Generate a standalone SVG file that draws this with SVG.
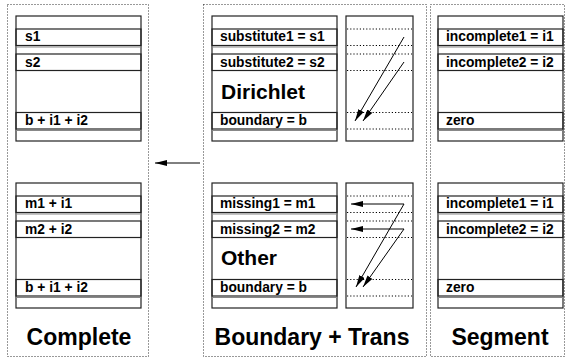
<svg xmlns="http://www.w3.org/2000/svg" width="566" height="360" viewBox="0 0 566 360">
<defs>
<style>
.frame{fill:none;stroke:#333;stroke-width:1;stroke-dasharray:1 2}
.tbl{fill:#fff;stroke:#222;stroke-width:1.2}
.grid{stroke:#888;stroke-width:1}
.row{fill:none;stroke:#222;stroke-width:1.2}
.dot{stroke:#000;stroke-width:1;stroke-dasharray:1.2 2}
.lbl{font-family:"Liberation Sans",Arial,sans-serif;font-weight:bold;font-size:13.8px;fill:#000}
.mid{font-family:"Liberation Sans",Arial,sans-serif;font-weight:bold;font-size:21px;fill:#000}
.ttl{font-family:"Liberation Sans",Arial,sans-serif;font-weight:bold;font-size:23px;fill:#000;text-anchor:middle}
.arr{stroke:#000;stroke-width:1;fill:none;marker-end:url(#ah)}
</style>
<marker id="ah" viewBox="0 0 12 6" refX="12" refY="3" markerWidth="12" markerHeight="6" markerUnits="userSpaceOnUse" orient="auto">
<path d="M0,0 L12,3 L0,6 Z" fill="#000"/>
</marker>
<g id="table">
<rect class="tbl" x="0" y="0" width="125" height="125"/>
<line class="grid" x1="0" y1="31" x2="125" y2="31"/>
<line class="grid" x1="0" y1="114.5" x2="125" y2="114.5"/>
<rect class="row" x="0" y="13" width="125" height="16.5"/>
<rect class="row" x="0" y="38" width="125" height="16.5"/>
<rect class="row" x="0" y="96.5" width="125" height="16.5"/>
</g>
<g id="trans">
<rect class="tbl" x="0" y="0" width="67" height="125"/>
<line class="dot" x1="1" y1="13" x2="66" y2="13"/>
<line class="dot" x1="1" y1="29.5" x2="66" y2="29.5"/>
<line class="dot" x1="1" y1="38" x2="66" y2="38"/>
<line class="dot" x1="1" y1="54.5" x2="66" y2="54.5"/>
<line class="dot" x1="1" y1="96.5" x2="66" y2="96.5"/>
<line class="dot" x1="1" y1="113" x2="66" y2="113"/>
</g>
</defs>

<g id="complete">
<rect class="frame" x="7.5" y="4.5" width="141" height="352"/>
<use href="#table" x="16" y="16"/>
<text class="lbl" x="25" y="41">s1</text>
<text class="lbl" x="25" y="66.5">s2</text>
<text class="lbl" x="25" y="125">b + i1 + i2</text>
<use href="#table" x="16" y="183"/>
<text class="lbl" x="25" y="208">m1 + i1</text>
<text class="lbl" x="25" y="233.5">m2 + i2</text>
<text class="lbl" x="25" y="292">b + i1 + i2</text>
<text class="ttl" x="79" y="345">Complete</text>
</g>

<g id="boundary">
<rect class="frame" x="203.5" y="4.5" width="223" height="352"/>
<use href="#table" x="212" y="16"/>
<text class="lbl" x="220" y="41">substitute1 = s1</text>
<text class="lbl" x="220" y="66.5">substitute2 = s2</text>
<text class="mid" x="221" y="99">Dirichlet</text>
<text class="lbl" x="220" y="125">boundary = b</text>
<use href="#trans" x="346" y="16"/>
<use href="#table" x="212" y="183"/>
<text class="lbl" x="220" y="208">missing1 = m1</text>
<text class="lbl" x="220" y="233.5">missing2 = m2</text>
<text class="mid" x="221" y="265">Other</text>
<text class="lbl" x="220" y="292">boundary = b</text>
<use href="#trans" x="346" y="183"/>
<text class="ttl" x="312" y="345">Boundary + Trans</text>
</g>

<g id="segment">
<rect class="frame" x="430.5" y="4.5" width="134" height="352"/>
<use href="#table" x="438" y="16"/>
<text class="lbl" x="446" y="41">incomplete1 = i1</text>
<text class="lbl" x="446" y="66.5">incomplete2 = i2</text>
<text class="lbl" x="446" y="125">zero</text>
<use href="#table" x="438" y="183"/>
<text class="lbl" x="446" y="208">incomplete1 = i1</text>
<text class="lbl" x="446" y="233.5">incomplete2 = i2</text>
<text class="lbl" x="446" y="292">zero</text>
<text class="ttl" x="500" y="345">Segment</text>
</g>

<g id="connectors">
<line class="arr" x1="200" y1="163" x2="155" y2="163"/>
<line class="arr" x1="404" y1="37" x2="355" y2="121"/>
<line class="arr" x1="404" y1="62" x2="363" y2="121"/>
<line class="arr" x1="404" y1="204" x2="351" y2="204"/>
<line class="arr" x1="404" y1="229" x2="351" y2="229"/>
<line class="arr" x1="404" y1="204" x2="356" y2="287"/>
<line class="arr" x1="404" y1="229" x2="363" y2="287"/>
</g>
</svg>
